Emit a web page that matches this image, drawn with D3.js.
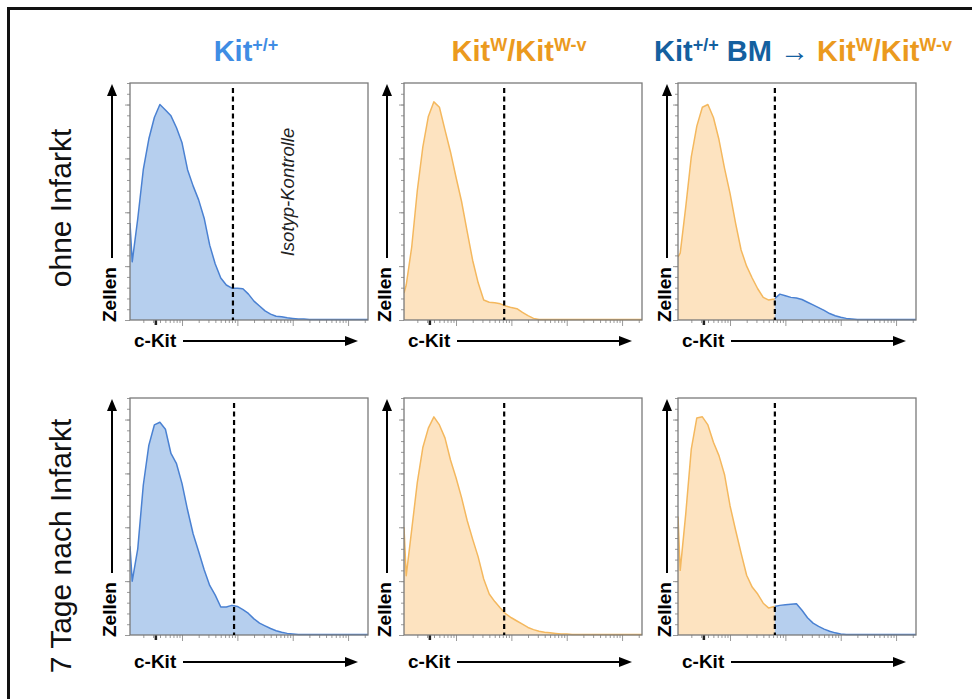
<!DOCTYPE html>
<html>
<head>
<meta charset="utf-8">
<script src="https://cdn.jsdelivr.net/npm/d3@7/dist/d3.min.js"></script>
<style>
    body { margin: 0; background: #fff; }
    svg { display: block; font-family: "Liberation Sans", Arial, Helvetica, sans-serif; }
</style>
</head>
<body>
<div id="chart"></div>
<script>
//-----------------------------Data
// c-Kit channel (log10 intensity) of each histogram bin
var channels = [1.06, 1.1, 1.2, 1.3, 1.4, 1.5, 1.6, 1.7, 1.8, 1.9,
    2.0, 2.1, 2.2, 2.3, 2.4, 2.5, 2.6, 2.7, 2.8, 2.9,
    3.0, 3.1, 3.2, 3.3, 3.4, 3.5, 3.6, 3.7, 3.8, 3.9,
    4.0, 4.1, 4.2, 4.3, 4.4, 4.5, 4.6, 4.8, 5.0, 5.2, 5.36];

// cell counts per bin, ohne Infarkt
var wtOhne = [180, 108, 188, 279, 336, 376, 400, 390, 379, 357,
    329, 279, 249, 223, 189, 139, 104, 78, 65, 59,
    59, 58, 48, 35, 26, 17, 11, 7, 6, 4,
    3, 2, 2, 1, 1, 1, 1, 1, 1, 1, 1];
var wvOhne = [50, 65, 136, 240, 321, 378, 405, 395, 353, 312,
    265, 220, 165, 111, 69, 37, 33, 32, 30, 26,
    23, 21, 14, 8, 3, 1, 1, 1, 1, 1,
    1, 1, 1, 1, 1, 1, 1, 1, 1, 1, 1];
var bmOhne = [117, 124, 210, 303, 360, 395, 400, 376, 335, 282,
    235, 180, 130, 100, 78, 58, 42, 37, 39, 48,
    45, 42, 41, 38, 33, 28, 23, 18, 12, 8,
    5, 3, 2, 1, 1, 1, 1, 1, 1, 1, 1];

// cell counts per bin, 7 Tage nach Infarkt
var wtInfarkt = [165, 100, 160, 278, 352, 390, 395, 382, 337, 318,
    281, 232, 188, 155, 121, 92, 74, 52, 52, 55,
    53, 47, 40, 30, 22, 17, 12, 8, 5, 3,
    2, 1, 1, 1, 1, 1, 1, 1, 1, 1, 1];
var wvInfarkt = [200, 110, 196, 283, 348, 384, 405, 390, 366, 325,
    292, 255, 213, 178, 145, 104, 76, 62, 50, 39,
    32, 26, 20, 14, 10, 7, 5, 4, 3, 2,
    2, 1, 1, 1, 1, 1, 1, 1, 1, 1, 1];
var bmInfarkt = [220, 120, 225, 345, 403, 405, 390, 358, 333, 298,
    240, 195, 152, 111, 89, 76, 59, 50, 53, 55,
    56, 57, 58, 46, 32, 22, 16, 11, 7, 4,
    2, 1, 1, 1, 1, 1, 1, 1, 1, 1, 1];

var series = [[wtOhne, wvOhne, bmOhne], [wtInfarkt, wvInfarkt, bmInfarkt]];
// histogram colour left of the gate / right of the gate
var panelColors = [["blue", "blue"], ["orange", "orange"], ["orange", "blue"]];
// isotype gate position (log10 channel)
var gates = [[2.92, 2.87, 2.81], [2.94, 2.87, 2.81]];

var rowLabels = ["ohne Infarkt", "7 Tage nach Infarkt"];
var yMajorTicks = [0, 100, 200, 300, 400];
var xMajorTicks = [100, 1000, 10000, 100000];
var xZeroTick = [33];

//-----------------------------Layout
var W = 972, H = 699;
var colX = [130, 404, 678];
var rowY = [83, 398];
var pw = 238, ph = 237;
var arrowOffset = [18, 17, 11];
var kitOffset = [21, 27];
var rowLabelY = [208, 546];

var colors = {
    blue: { fill: "#b6cfee", stroke: "#4a81d2" },
    orange: { fill: "#fde3c0", stroke: "#f4b85e" }
};
var lightBlue = "#3f8de4", darkBlue = "#14609f", orange = "#eb9a1e";

var svg = d3.select("#chart")
    .append("svg")
    .attr("width", W)
    .attr("height", H);

var defs = svg.append("defs");

// outer frame
svg.append("rect")
    .attr("x", 8.5).attr("y", 8.5)
    .attr("width", 980).attr("height", 700)
    .attr("fill", "none")
    .attr("stroke", "#111")
    .attr("stroke-width", 3);

//-----------------------------Column titles
function addTitle(x, parts) {
    var t = svg.append("text")
        .attr("x", x).attr("y", 61)
        .attr("text-anchor", "middle")
        .attr("font-size", "29px")
        .attr("font-weight", "bold");
    parts.forEach(function(p) {
        var s = t.append("tspan").text(p.text).attr("fill", p.color);
        if (p.sup) {
            s.attr("font-size", "18px").attr("dy", -10);
        } else if (p.down) {
            s.attr("dy", 10);
        }
    });
}

addTitle(246, [
    { text: "Kit", color: lightBlue },
    { text: "+/+", color: lightBlue, sup: true }
]);
addTitle(519, [
    { text: "Kit", color: orange },
    { text: "W", color: orange, sup: true },
    { text: "/Kit", color: orange, down: true },
    { text: "W-v", color: orange, sup: true }
]);
addTitle(803, [
    { text: "Kit", color: darkBlue },
    { text: "+/+", color: darkBlue, sup: true },
    { text: " BM \u2192 ", color: darkBlue, down: true },
    { text: "Kit", color: orange },
    { text: "W", color: orange, sup: true },
    { text: "/Kit", color: orange, down: true },
    { text: "W-v", color: orange, sup: true }
]);

//-----------------------------Row labels
rowLabels.forEach(function(label, r) {
    svg.append("text")
        .attr("transform", "translate(71," + rowLabelY[r] + ") rotate(-90)")
        .attr("text-anchor", "middle")
        .attr("font-size", "30px")
        .attr("fill", "#111")
        .text(label);
});

//-----------------------------Panels
for (var r = 0; r < 2; r++) {
    for (var c = 0; c < 3; c++) {
        drawPanel(r, c);
    }
}

function drawPanel(r, c) {
    var left = colX[c];
    var top = rowY[r];
    var bottom = top + ph;
    var right = left + pw;
    var counts = series[r][c];
    var gate = Math.pow(10, gates[r][c]);

    var x = d3.scaleLog()
        .domain([Math.pow(10, 1.06), Math.pow(10, 5.36)])
        .range([left, right]);
    var y = d3.scaleLinear()
        .domain([0, 440])
        .range([bottom, top]);

    var data = channels.map(function(ch, i) {
        return { v: Math.pow(10, ch), n: counts[i] };
    });

    var g = svg.append("g");

    // axis ticks (no labels, flow cytometry style)
    var xMinor = x.ticks().filter(function(t) {
        return xMajorTicks.indexOf(t) < 0;
    });
    var xa = g.append("g")
        .attr("transform", "translate(0," + bottom + ")")
        .call(d3.axisBottom(x).tickValues(xMinor).tickSize(3).tickFormat(""));
    var xb = g.append("g")
        .attr("transform", "translate(0," + bottom + ")")
        .call(d3.axisBottom(x).tickValues(xMajorTicks).tickSize(6).tickFormat(""));
    var xz = g.append("g")
        .attr("transform", "translate(0," + bottom + ")")
        .call(d3.axisBottom(x).tickValues(xZeroTick).tickSize(5).tickFormat(""));
    var ya = g.append("g")
        .attr("transform", "translate(" + left + ",0)")
        .call(d3.axisLeft(y).ticks(22).tickSize(3).tickFormat(""));
    var yb = g.append("g")
        .attr("transform", "translate(" + left + ",0)")
        .call(d3.axisLeft(y).tickValues(yMajorTicks).tickSize(5).tickFormat(""));
    [xa, xb, ya, yb, xz].forEach(function(a) {
        a.select(".domain").remove();
        a.selectAll("line").attr("stroke", "#9a9a9a").attr("stroke-width", 1);
    });
    xz.selectAll("line").attr("stroke", "#222").attr("stroke-width", 2.5);

    // histogram, split at the gate
    var area = d3.area()
        .x(function(d) { return x(d.v); })
        .y0(bottom)
        .y1(function(d) { return y(d.n); });
    var line = d3.line()
        .x(function(d) { return x(d.v); })
        .y(function(d) { return y(d.n); });

    var gx = x(gate);
    var sides = [
        { x0: left, x1: gx, col: colors[panelColors[c][0]] },
        { x0: gx, x1: right, col: colors[panelColors[c][1]] }
    ];
    sides.forEach(function(s, k) {
        var id = "clip-" + r + "-" + c + "-" + k;
        defs.append("clipPath").attr("id", id)
            .append("rect")
            .attr("x", s.x0).attr("y", top - 5)
            .attr("width", s.x1 - s.x0).attr("height", ph + 10);
        var h = g.append("g").attr("clip-path", "url(#" + id + ")");
        h.append("path")
            .datum(data)
            .attr("d", area)
            .attr("fill", s.col.fill);
        h.append("path")
            .datum(data)
            .attr("d", line)
            .attr("fill", "none")
            .attr("stroke", s.col.stroke)
            .attr("stroke-width", 1.5)
            .attr("stroke-linejoin", "round");
    });

    // plot frame
    g.append("rect")
        .attr("x", left).attr("y", top)
        .attr("width", pw).attr("height", ph)
        .attr("fill", "none")
        .attr("stroke", "#7a7a7a")
        .attr("stroke-width", 1.3);

    // isotype gate
    g.append("line")
        .attr("x1", gx).attr("x2", gx)
        .attr("y1", top + 5).attr("y2", bottom)
        .attr("stroke", "#000")
        .attr("stroke-width", 2.2)
        .attr("stroke-dasharray", "5,3.5");

    if (r == 0 && c == 0) {
        g.append("text")
            .attr("transform", "translate(" + (gx + 61) + "," + (top + 109) + ") rotate(-90)")
            .attr("text-anchor", "middle")
            .attr("font-size", "18.5px")
            .attr("font-style", "italic")
            .attr("fill", "#222")
            .text("Isotyp-Kontrolle");
    }

    // y arrow with "Zellen"
    var ax = left - arrowOffset[c];
    g.append("text")
        .attr("transform", "translate(" + (ax + 4) + "," + (bottom + 2) + ") rotate(-90)")
        .attr("font-size", "19px")
        .attr("font-weight", "bold")
        .attr("fill", "#000")
        .text("Zellen");
    g.append("line")
        .attr("x1", ax).attr("x2", ax)
        .attr("y1", bottom - 62).attr("y2", top + 10)
        .attr("stroke", "#000").attr("stroke-width", 2);
    g.append("path")
        .attr("d", "M" + ax + "," + (top + 1) + "L" + (ax - 5) + "," + (top + 13) + "L" + (ax + 5) + "," + (top + 13) + "Z")
        .attr("fill", "#000");

    // x arrow with "c-Kit"
    var ay = bottom + kitOffset[r];
    g.append("text")
        .attr("x", left + 4).attr("y", ay + 6)
        .attr("font-size", "19px")
        .attr("font-weight", "bold")
        .attr("fill", "#000")
        .text("c-Kit");
    g.append("line")
        .attr("x1", left + 53).attr("x2", left + 218)
        .attr("y1", ay).attr("y2", ay)
        .attr("stroke", "#000").attr("stroke-width", 2);
    g.append("path")
        .attr("d", "M" + (left + 228) + "," + ay + "L" + (left + 215) + "," + (ay - 5) + "L" + (left + 215) + "," + (ay + 5) + "Z")
        .attr("fill", "#000");
}
</script>
</body>
</html>
